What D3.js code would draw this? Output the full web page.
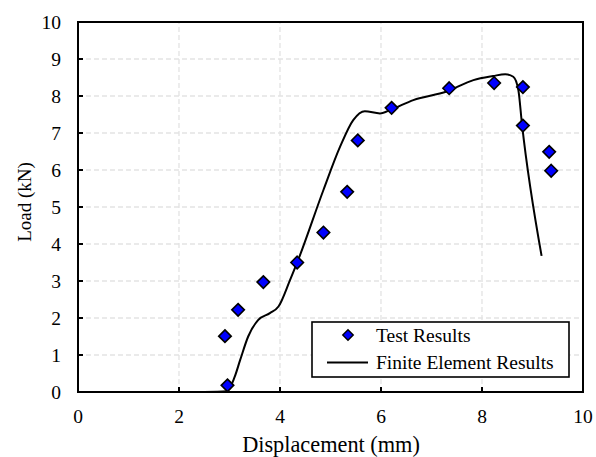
<!DOCTYPE html>
<html>
<head>
<meta charset="utf-8">
<script src="https://cdn.jsdelivr.net/npm/d3@7"></script>
</head>
<body style="margin:0">
<script>
// test results (displacement mm, load kN)
var testX = [2.96, 2.91, 3.17, 3.67, 4.34, 4.86, 5.33, 5.54, 6.21, 7.35, 8.24, 8.81, 8.81, 9.33, 9.37];
var testY = [0.18, 1.51, 2.22, 2.97, 3.50, 4.31, 5.41, 6.80, 7.68, 8.21, 8.35, 8.24, 7.20, 6.49, 5.98];

// finite element curve
var feX = [2.5, 2.95, 3.1, 3.21, 3.37, 3.57, 3.8, 3.97, 4.2, 4.36, 4.86, 5.19, 5.45, 5.68, 5.98, 6.21, 6.64, 7.3, 7.83, 8.22, 8.46, 8.62, 8.72, 8.79, 9.18];
var feY = [0, 0.02, 0.4, 0.86, 1.5, 1.95, 2.13, 2.31, 3.03, 3.57, 5.46, 6.63, 7.35, 7.59, 7.53, 7.64, 7.89, 8.12, 8.43, 8.54, 8.59, 8.52, 8.16, 7.26, 3.68];

var xTicks = [0, 2, 4, 6, 8, 10];
var yTicks = [0, 1, 2, 3, 4, 5, 6, 7, 8, 9, 10];

var serif = "'Liberation Serif'";
var width = 596, height = 457;
var margin = {left: 78, right: 13, top: 22, bottom: 65};

var svg = d3.select("body").append("svg")
  .attr("width", width)
  .attr("height", height);

var x = d3.scaleLinear().domain([0, 10]).range([margin.left, width - margin.right]);
var y = d3.scaleLinear().domain([0, 10]).range([height - margin.bottom, margin.top]);

// grid
svg.append("g").selectAll("line")
  .data(yTicks.filter(function(d){ return d > 0 && d < 10; }))
  .enter().append("line")
  .attr("x1", x(0)).attr("x2", x(10))
  .attr("y1", function(d){ return y(d); }).attr("y2", function(d){ return y(d); })
  .style("stroke", "#e3e3e3").style("stroke-width", "1.3px").style("stroke-dasharray", "5,3");

svg.append("g").selectAll("line")
  .data(xTicks.filter(function(d){ return d > 0 && d < 10; }))
  .enter().append("line")
  .attr("y1", y(0)).attr("y2", y(10))
  .attr("x1", function(d){ return x(d); }).attr("x2", function(d){ return x(d); })
  .style("stroke", "#e3e3e3").style("stroke-width", "1.3px").style("stroke-dasharray", "5,3");

// frame
svg.append("rect")
  .attr("x", x(0)).attr("y", y(10))
  .attr("width", x(10) - x(0)).attr("height", y(0) - y(10))
  .style("fill", "none").style("stroke", "#000").style("stroke-width", "2px");

// ticks
var xTickG = svg.append("g").selectAll("g")
  .data(xTicks).enter().append("g")
  .attr("transform", function(d){ return "translate(" + x(d) + "," + y(0) + ")"; });
xTickG.filter(function(d){ return d > 0 && d < 10; }).append("line")
  .attr("y2", -5).style("stroke", "#000").style("stroke-width", "2px");
xTickG.append("text")
  .attr("y", 31)
  .style("font-family", serif).style("font-size", "19.5px")
  .style("text-anchor", "middle")
  .text(function(d){ return d; });

var yTickG = svg.append("g").selectAll("g")
  .data(yTicks).enter().append("g")
  .attr("transform", function(d){ return "translate(" + x(0) + "," + y(d) + ")"; });
yTickG.filter(function(d){ return d > 0 && d < 10; }).append("line")
  .attr("x2", 5).style("stroke", "#000").style("stroke-width", "2px");
yTickG.append("text")
  .attr("x", -17).attr("y", 6.5)
  .style("font-family", serif).style("font-size", "19.5px")
  .style("text-anchor", "end")
  .text(function(d){ return d; });

// titles
svg.append("text")
  .attr("x", 331).attr("y", 452)
  .style("font-family", serif).style("font-size", "22.3px")
  .style("text-anchor", "middle")
  .text("Displacement (mm)");

svg.append("text")
  .attr("transform", "translate(31,202) rotate(-90)")
  .style("font-family", serif).style("font-size", "19px")
  .style("text-anchor", "middle")
  .text("Load (kN)");

// FE line
var feData = feX.map(function(d, i){ return {x: d, y: feY[i]}; });
svg.append("path")
  .datum(feData)
  .attr("d", d3.line()
    .x(function(d){ return x(d.x); })
    .y(function(d){ return y(d.y); })
    .curve(d3.curveMonotoneX))
  .style("fill", "none").style("stroke", "#000").style("stroke-width", "2px");

// test points
var diamond = d3.symbol().type(d3.symbolDiamond2).size(100);
var testData = testX.map(function(d, i){ return {x: d, y: testY[i]}; });
svg.append("g").selectAll("path")
  .data(testData)
  .enter().append("path")
  .attr("d", diamond)
  .attr("transform", function(d){ return "translate(" + x(d.x) + "," + y(d.y) + ")"; })
  .style("fill", "#0000ff").style("stroke", "#000").style("stroke-width", "1.6px");

// legend
var legend = svg.append("g");
legend.append("rect")
  .attr("x", 312).attr("y", 322).attr("width", 257).attr("height", 55)
  .style("fill", "#fff").style("stroke", "#000").style("stroke-width", "1.6px");
legend.append("path")
  .attr("d", d3.symbol().type(d3.symbolDiamond2).size(70))
  .attr("transform", "translate(348,335)")
  .style("fill", "#0000ff").style("stroke", "#000").style("stroke-width", "1.4px");
legend.append("text").attr("x", 376).attr("y", 342)
  .style("font-family", serif).style("font-size", "19.5px").text("Test Results");
legend.append("line")
  .attr("x1", 327).attr("x2", 368).attr("y1", 362.5).attr("y2", 362.5)
  .style("stroke", "#000").style("stroke-width", "2px");
legend.append("text").attr("x", 376).attr("y", 369)
  .style("font-family", serif).style("font-size", "19.5px").text("Finite Element Results");
</script>
</body>
</html>
